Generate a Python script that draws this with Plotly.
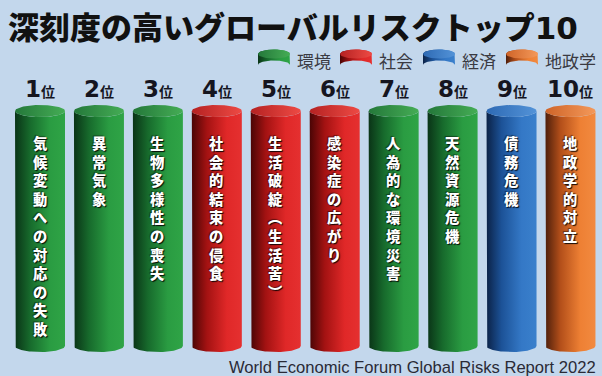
import numpy as np
import plotly.graph_objects as go

# ---------------- data ----------------
ranks = ["1", "2", "3", "4", "5", "6", "7", "8", "9", "10"]
risks = ["気候変動への対応の失敗", "異常気象", "生物多様性の喪失", "社会的結束の侵食",
         "生活破綻︵生活苦︶", "感染症の広がり", "人為的な環境災害", "天然資源危機",
         "債務危機", "地政学的対立"]
risk_groups = ["環境", "環境", "環境", "社会", "社会", "社会", "環境", "環境", "経済", "地政学"]
bar_heights = [1, 1, 1, 1, 1, 1, 1, 1, 1, 1]
legend_groups = ["環境", "社会", "経済", "地政学"]
title_main = "深刻度の高いグローバルリスクトップ"
title_num = "10"
source_text = "World Economic Forum Global Risks Report 2022"

# ---------------- styles ----------------
BG = "#c3d7ec"
body_scales = {
    "環境": [[0, "#0a3417"], [0.3, "#176a2c"], [0.7, "#2a9c42"], [1, "#2fa446"]],
    "社会": [[0, "#4a0505"], [0.3, "#a31212"], [0.7, "#e02828"], [1, "#e53030"]],
    "経済": [[0, "#0b2247"], [0.3, "#1c5297"], [0.7, "#3478c6"], [1, "#3a80cc"]],
    "地政学": [[0, "#4f1f0b"], [0.3, "#b34f1a"], [0.7, "#ee8034"], [1, "#f28a40"]],
}
top_scales = {
    "環境": [[0, "#24783a"], [1, "#45ad55"]],
    "社会": [[0, "#b52222"], [1, "#ee4a44"]],
    "経済": [[0, "#2e6ab4"], [1, "#5393d8"]],
    "地政学": [[0, "#cf6428"], [1, "#f4995a"]],
}
PX_PER_X = 58.94      # pixels per category step
X0_PX = 40.0          # pixel centre of first bar
PX_PER_Y = 235.0      # pixels per value unit
Y0_PX = 346.0         # pixel of value 0
W, H = 602, 376
RX = 25.0 / PX_PER_X
RY = 6.0 / PX_PER_Y

fig = go.Figure()


def cylinder(cx, top, rx, ry, group, xaxis="x", yaxis="y", base=0.0):
    t_low = np.linspace(np.pi, 2 * np.pi, 40)
    bx = np.concatenate([[cx - rx], cx + rx * np.cos(t_low), [cx + rx],
                         (cx + rx * np.cos(t_low))[::-1]])
    by = np.concatenate([[top], base + ry * np.sin(t_low), [top],
                         (top + ry * np.sin(t_low))[::-1]])
    fig.add_trace(go.Scatter(x=bx, y=by, mode="lines", fill="toself",
                             line=dict(width=0, color="rgba(0,0,0,0)"),
                             fillgradient=dict(type="horizontal", colorscale=body_scales[group]),
                             hoverinfo="skip", showlegend=False, xaxis=xaxis, yaxis=yaxis))
    t = np.linspace(0, 2 * np.pi, 80)
    fig.add_trace(go.Scatter(x=cx + rx * np.cos(t), y=top + ry * np.sin(t), mode="lines",
                             fill="toself", line=dict(width=0, color="rgba(0,0,0,0)"),
                             fillgradient=dict(type="horizontal", colorscale=top_scales[group]),
                             hoverinfo="skip", showlegend=False, xaxis=xaxis, yaxis=yaxis))


# main cylinders, from data
for i, (h, g) in enumerate(zip(bar_heights, risk_groups)):
    cylinder(i, h, RX, RY, g)

annotations = []
for i, (r, label, h) in enumerate(zip(ranks, risks, bar_heights)):
    annotations.append(dict(
        x=i, y=h + 22 / PX_PER_Y, xref="x", yref="y", xanchor="center", yanchor="middle",
        text=f"<b>{r}</b><span style='font-size:14px'><b>位</b></span>", showarrow=False,
        font=dict(family="DejaVu Sans, Noto Sans CJK JP", size=23, color="#15151f")))
    annotations.append(dict(
        x=i, y=h - 19 / PX_PER_Y, xref="x", yref="y", xanchor="center", yanchor="top",
        text="<br>".join(list(label)), showarrow=False, align="center",
        font=dict(family="Noto Sans CJK JP", size=14.3, color="#ffffff", weight=900,
                  shadow="1px 1px 1px rgba(0,0,0,0.9), -1px -1px 1px rgba(0,0,0,0.45)")))

# legend (pixel-space axes)
leg_icon_x = [274, 356, 439, 522]
for gx, g in zip(leg_icon_x, legend_groups):
    cylinder(gx, 54, 16, 4.5, g, xaxis="x2", yaxis="y2", base=65)
    annotations.append(dict(x=gx + 21, y=60, xref="x2", yref="y2", xanchor="left",
                            yanchor="middle", text=g, showarrow=False,
                            font=dict(family="Noto Sans CJK JP", size=17, color="#3a3a42")))

annotations.append(dict(x=6, y=25, xref="x2", yref="y2", xanchor="left", yanchor="middle",
                        text=f"{title_main}<span style='font-family:DejaVu Sans'>{title_num}</span>",
                        showarrow=False,
                        font=dict(family="Noto Sans CJK JP", size=31, color="#111111",
                                  weight=900)))
annotations.append(dict(x=598, y=367, xref="x2", yref="y2", xanchor="right",
                        yanchor="middle", text=source_text, showarrow=False,
                        font=dict(family="Liberation Sans, Arial", size=16.6, color="#2a2a36")))

fig.update_layout(
    width=W, height=H, margin=dict(l=0, r=0, t=0, b=0),
    paper_bgcolor=BG, plot_bgcolor=BG, showlegend=False,
    xaxis=dict(range=[-X0_PX / PX_PER_X, (W - X0_PX) / PX_PER_X], visible=False, fixedrange=True),
    yaxis=dict(range=[(Y0_PX - H) / PX_PER_Y, Y0_PX / PX_PER_Y], visible=False, fixedrange=True),
    xaxis2=dict(range=[0, W], overlaying="x", visible=False, fixedrange=True),
    yaxis2=dict(range=[H, 0], overlaying="y", visible=False, fixedrange=True),
    annotations=annotations,
)

fig.write_html("out.html", config={"displayModeBar": False})
